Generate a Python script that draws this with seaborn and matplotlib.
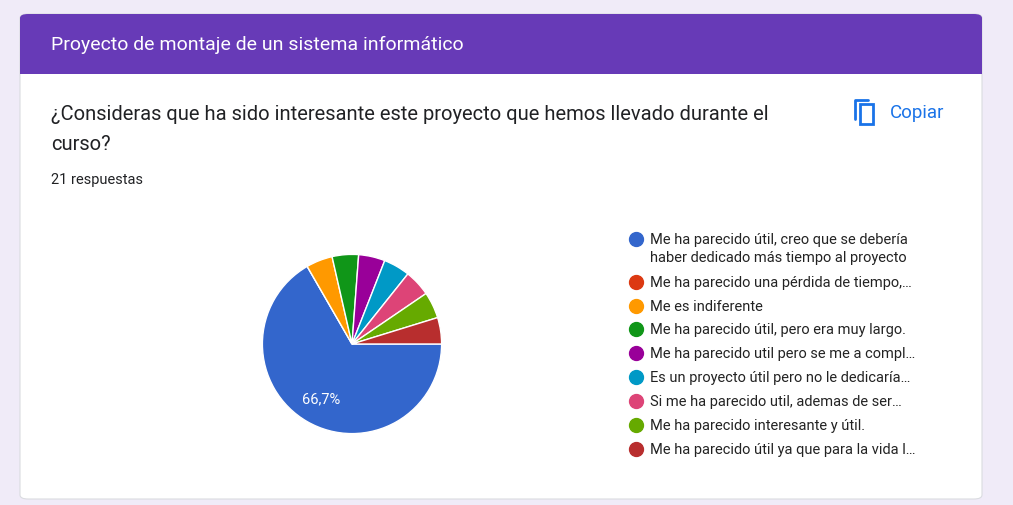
import matplotlib
matplotlib.use("Agg")
import matplotlib.pyplot as plt
import seaborn as sns
from matplotlib.patches import FancyBboxPatch, Rectangle

sns.set_theme(style="white")
plt.rcParams["font.family"] = "Roboto"

labels = [
    "Me ha parecido útil, creo que se debería\nhaber dedicado más tiempo al proyecto",
    "Me ha parecido una pérdida de tiempo,…",
    "Me es indiferente",
    "Me ha parecido útil, pero era muy largo.",
    "Me ha parecido util pero se me a compl…",
    "Es un proyecto útil pero no le dedicaría…",
    "Si me ha parecido util, ademas de ser…",
    "Me ha parecido interesante y útil.",
    "Me ha parecido útil ya que para la vida l…",
]
counts = [14, 0, 1, 1, 1, 1, 1, 1, 1]
colors = ["#3366cc", "#dc3912", "#ff9900", "#109618", "#990099",
          "#0099c6", "#dd4477", "#66aa00", "#b82e2e"]

W, H = 1013, 506
fig = plt.figure(figsize=(W / 100, H / 100), dpi=100)
fig.patch.set_facecolor("#f0ebf8")

def fx(x): return x / W
def fy(y): return 1 - y / H

# card
card = FancyBboxPatch((fx(20), fy(500)), fx(962), (500 - 15) / H,
                      boxstyle="round,pad=0,rounding_size=0.008",
                      transform=fig.transFigure, facecolor="white",
                      edgecolor="#dadce0", linewidth=0.8, zorder=0)
fig.add_artist(card)
header = FancyBboxPatch((fx(20), fy(75)), fx(962), 60 / H,
                        boxstyle="round,pad=0,rounding_size=0.008",
                        transform=fig.transFigure, facecolor="#673ab7", edgecolor="none", zorder=0)
fig.add_artist(header)
fig.add_artist(Rectangle((fx(20), fy(75)), fx(962), 20 / H, transform=fig.transFigure,
                         facecolor="#673ab7", edgecolor="none", zorder=0))
fig.text(fx(51), fy(45), "Proyecto de montaje de un sistema informático",
         color="white", fontsize=14, va="center")

fig.text(fx(51), fy(114), "¿Consideras que ha sido interesante este proyecto que hemos llevado durante el",
         fontsize=14.5, color="#202124", va="center")
fig.text(fx(51), fy(145), "curso?", fontsize=14.5, color="#202124", va="center")
fig.text(fx(51), fy(180), "21 respuestas", fontsize=10.5, color="#202124", va="center")

# copy icon + text
fig.add_artist(Rectangle((fx(860), fy(125)), fx(13), 20 / H, transform=fig.transFigure,
                         fill=False, edgecolor="#1a73e8", linewidth=2))
fig.add_artist(plt.Line2D([fx(855), fx(855), fx(868)], [fy(120), fy(101), fy(101)],
                          transform=fig.transFigure, color="#1a73e8", linewidth=2))
fig.text(fx(890), fy(113), "Copiar", fontsize=13.5, color="#1a73e8", va="center")

# pie
cx, cy, r = 352, 345, 112
ax = fig.add_axes([fx(cx - r), fy(cy + r), 2 * r / W, 2 * r / H])
ax.set_zorder(5)
ax.patch.set_alpha(0)
ax.pie(counts, colors=colors, startangle=0, counterclock=False,
       wedgeprops=dict(edgecolor="white", linewidth=1),
       autopct=lambda p: "66,7%" if p > 50 else "", pctdistance=0.7,
       textprops=dict(color="white", fontsize=10.5))
ax.set_aspect("equal")

# legend
ys = [240, 283, 307, 330, 354, 378, 402, 426, 450]
for y, lab, c in zip(ys, labels, colors):
    fig.add_artist(plt.Line2D([fx(636)], [fy(y)], marker="o", markersize=10,
                              color=c, transform=fig.transFigure))
    fig.text(fx(650), fy(y - 7), lab, fontsize=10.5, color="#222222", va="top",
             linespacing=1.35)

fig.savefig("out.png", dpi=100, facecolor=fig.get_facecolor())
